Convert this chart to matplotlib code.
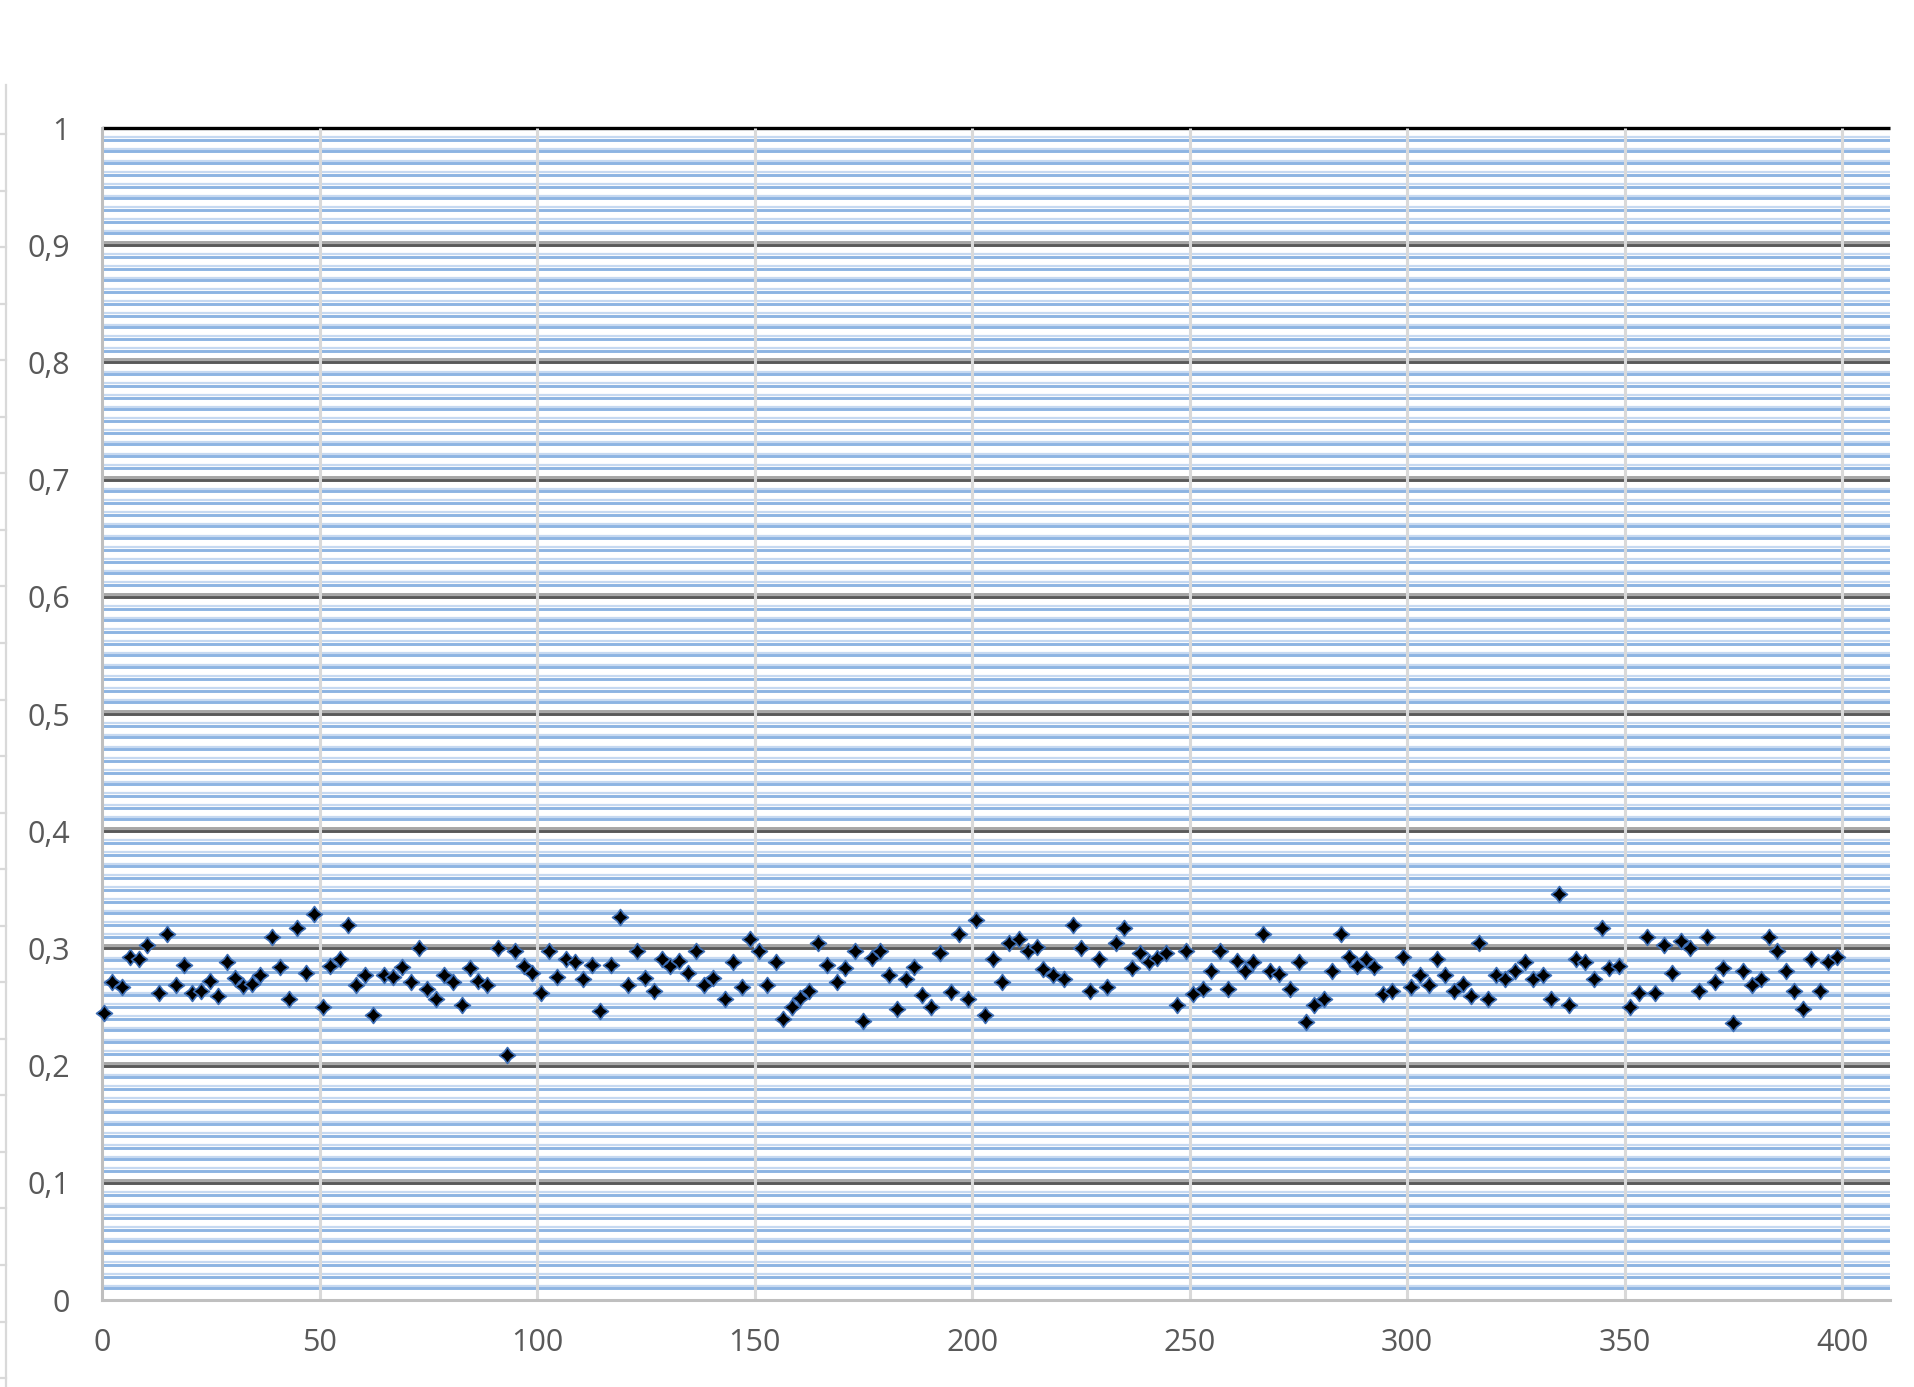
import matplotlib.pyplot as plt
import matplotlib.transforms as mtransforms
from matplotlib.path import Path
from matplotlib.lines import Line2D
import numpy as np

# data
x_vals = [0.5, 2.4, 4.5, 6.4, 8.5, 10.3, 13.0, 15.0, 16.9, 18.9, 20.8, 22.8, 24.8, 26.7, 28.7,
          30.6, 32.4, 34.4, 36.4, 39.0, 40.9, 42.9, 44.8, 46.9, 48.8, 50.7, 52.4, 54.7, 56.6, 58.5,
          60.5, 62.4, 64.8, 67.0, 68.9, 71.0, 72.9, 74.8, 76.8, 78.7, 80.6, 82.7, 84.6, 86.5, 88.4,
          91.1, 93.0, 94.9, 96.9, 98.9, 100.8, 102.8, 104.7, 106.6, 108.7,
          110.5, 112.6, 114.5, 117.0, 119.1, 121.0, 122.9, 124.9, 126.9, 128.7, 130.6, 132.7, 134.6,
          136.5, 138.4, 140.5, 143.1, 145.0, 147.0, 148.9, 151.0, 152.8, 154.9, 156.6, 158.7, 160.5,
          162.6, 164.5, 166.6, 169.0, 170.9, 173.1, 175.0, 176.9, 178.9, 180.9, 182.8, 184.7, 186.7,
          188.6, 190.6, 192.6, 195.2, 197.1, 199.0, 200.9, 203.0, 204.9, 206.8, 208.6, 210.9, 212.8,
          214.9,
          216.4, 218.5, 221.2, 223.1, 225.1, 227.0, 229.1, 231.0, 233.1, 235.0, 236.8, 238.6, 240.6,
          242.5, 244.6, 247.0, 249.2, 250.7, 253.0, 254.9, 257.0, 258.9, 260.8, 262.7, 264.6, 266.8,
          268.5, 270.6, 273.1, 275.1, 276.8, 278.7, 280.9, 282.8, 284.7, 286.6, 288.5, 290.6, 292.5,
          294.4, 296.6, 299.0, 300.9, 302.9, 305.0, 306.9, 308.8, 310.8, 312.8, 314.7, 316.6, 318.7,
          320.4, 322.6, 324.8,
          327.1, 328.9, 331.2, 333.0, 335.0, 337.1, 338.8, 340.9, 342.9, 344.8, 346.5, 348.7, 351.3,
          353.2, 355.1, 357.0, 359.1, 361.0, 362.9, 365.1, 367.0, 368.9, 370.8, 372.7, 374.8, 377.3,
          379.2, 381.3, 383.1, 385.0, 387.1, 389.0, 391.0, 392.9, 394.9, 396.7, 398.8]

y_vals = [0.245, 0.271, 0.267, 0.293, 0.291, 0.303, 0.262, 0.312, 0.269, 0.286, 0.262, 0.264, 0.272,
          0.259, 0.288, 0.275, 0.268, 0.270, 0.277, 0.310, 0.284, 0.257, 0.317, 0.279, 0.329, 0.250,
          0.285, 0.291, 0.320, 0.269, 0.277, 0.243, 0.277, 0.276, 0.284, 0.271, 0.300, 0.265, 0.257,
          0.277, 0.271, 0.252, 0.283, 0.272, 0.269, 0.300, 0.209, 0.298, 0.285, 0.279, 0.262, 0.298,
          0.276, 0.291, 0.288,
          0.274, 0.286, 0.247, 0.286, 0.327, 0.269, 0.298, 0.275, 0.264, 0.291, 0.285, 0.289, 0.279,
          0.298, 0.269, 0.275, 0.257, 0.288, 0.267, 0.308, 0.298, 0.269, 0.288, 0.240, 0.250, 0.258,
          0.264, 0.305, 0.286, 0.271, 0.283, 0.298, 0.238, 0.292, 0.298, 0.277, 0.248, 0.274, 0.284,
          0.260, 0.250, 0.296, 0.263, 0.312, 0.257, 0.324, 0.243, 0.291, 0.271, 0.305, 0.308, 0.298,
          0.301,
          0.282, 0.277, 0.274, 0.320, 0.300, 0.264, 0.291, 0.267, 0.305, 0.317, 0.283, 0.296, 0.288,
          0.292, 0.296, 0.252, 0.298, 0.261, 0.265, 0.281, 0.298, 0.265, 0.289, 0.281, 0.288, 0.312,
          0.281, 0.278, 0.265, 0.288, 0.237, 0.252, 0.257, 0.281, 0.312, 0.293, 0.285, 0.291, 0.284,
          0.261, 0.264, 0.293, 0.267, 0.277, 0.269, 0.291, 0.277, 0.264, 0.270, 0.259, 0.305, 0.257,
          0.277, 0.274, 0.281,
          0.288, 0.274, 0.277, 0.257, 0.346, 0.252, 0.291, 0.288, 0.274, 0.317, 0.283, 0.285, 0.250,
          0.262, 0.310, 0.262, 0.303, 0.279, 0.306, 0.300, 0.264, 0.310, 0.271, 0.283, 0.236, 0.281,
          0.269, 0.274, 0.310, 0.298, 0.281, 0.264, 0.248, 0.291, 0.264, 0.288, 0.293]

x_ticks = [0, 50, 100, 150, 200, 250, 300, 350, 400]
y_ticks = [0, 0.1, 0.2, 0.3, 0.4, 0.5, 0.6, 0.7, 0.8, 0.9, 1]
y_labels = ['0', '0,1', '0,2', '0,3', '0,4', '0,5', '0,6', '0,7', '0,8', '0,9', '1']
minor_y = [v / 100 for v in range(1, 100) if v % 10]

plt.rcParams['font.family'] = ['Open Sans', 'DejaVu Sans']

W, H = 1915, 1387
fig = plt.figure(figsize=(W / 100, H / 100), dpi=100, facecolor='white')
ax = fig.add_axes([102 / W, 87 / H, 1788 / W, 1172 / H])
ax.set_xlim(0, 411)
ax.set_ylim(0, 1)
for s in ax.spines.values():
    s.set_visible(False)

# two-tone excel gridlines
yax = ax.get_yaxis_transform()
up_minor = mtransforms.ScaledTranslation(0, 2.6 / 100, fig.dpi_scale_trans)
up_major = mtransforms.ScaledTranslation(0, 3.0 / 100, fig.dpi_scale_trans)
ax.hlines(minor_y, 0, 1, transform=yax + up_minor, colors='#C6D9F1', lw=1.6, zorder=1)
ax.hlines(minor_y, 0, 1, transform=yax, colors='#8DB4E2', lw=2.1, zorder=1.1)
ax.hlines(y_ticks[1:-1], 0, 1, transform=yax + up_major, colors='#A6A6A6', lw=2.1, zorder=1.2)
ax.hlines(y_ticks[1:-1], 0, 1, transform=yax, colors='#595959', lw=2.1, zorder=1.3)
ax.hlines([1], 0, 1, transform=yax, colors='black', lw=2.4, zorder=1.4, clip_on=False)
ax.vlines(x_ticks[1:], 0, 1, transform=ax.get_xaxis_transform(), colors='#D9D9D9', lw=2.2, zorder=2)
ax.axvline(0, color='#BFBFBF', lw=2.2, zorder=3, clip_on=False)
ax.axhline(0, color='#BFBFBF', lw=2.2, zorder=3, clip_on=False)

# marker: four pointed star
ang = np.arange(8) * np.pi / 4 + np.pi / 2
rad = np.where(np.arange(8) % 2 == 0, 1.0, 0.6)
verts = np.column_stack([rad * np.cos(ang), rad * np.sin(ang)])
star = Path(np.vstack([verts, verts[:1]]), closed=True)

ax.plot(x_vals, y_vals, linestyle='none', marker=star, ms=11.5, mfc='black',
        mec='#3C6DB4', mew=1.2, clip_on=False, zorder=5)

ax.set_xticks(x_ticks)
ax.set_yticks(y_ticks)
ax.set_yticklabels(y_labels)
ax.tick_params(axis='both', length=0, labelsize=22, colors='#595959')
ax.tick_params(axis='x', pad=20)
ax.tick_params(axis='y', pad=23)

# spreadsheet edge on the left
fig.add_artist(Line2D([6 / W, 6 / W], [1 - 85 / H, 0], transform=fig.transFigure,
                      color='#D9D9D9', lw=1.6))
for py in np.arange(134, H, 56.55):
    fig.add_artist(Line2D([0, 6 / W], [1 - py / H, 1 - py / H], transform=fig.transFigure,
                          color='#D9D9D9', lw=1.6))

fig.savefig('out.png', dpi=100, facecolor='white')
